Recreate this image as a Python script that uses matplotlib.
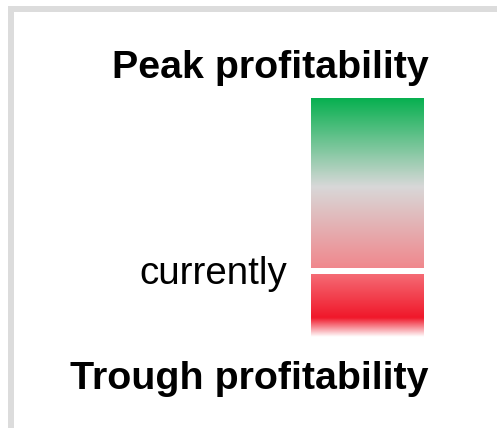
import numpy as np
import matplotlib.pyplot as plt
from matplotlib.colors import LinearSegmentedColormap
from matplotlib.patches import Rectangle

plt.rcParams['font.family'] = ['Liberation Sans', 'DejaVu Sans']

# gradient stops: position on the profitability scale (0 = trough, 1 = peak)
stop_pos = [0.0, 0.08, 0.26, 0.29, 0.63, 1.0]
stop_colors = ['#f0182a', '#f0182a', '#f56a74', '#f0888d', '#d8d8d8', '#08b050']
fade_top = 0.08          # below this the bar fades to white
current_level = 0.276    # where "currently" sits
top_label = 'Peak profitability'
bottom_label = 'Trough profitability'
current_label = 'currently'

W, H = 497, 428
fig = plt.figure(figsize=(W / 100, H / 100), dpi=100)

# background frame
bg = fig.add_axes([0, 0, 1, 1])
bg.set_xlim(0, W)
bg.set_ylim(H, 0)
bg.axis('off')
bg.add_patch(Rectangle((11, 9), 800, 800, facecolor='white',
                       edgecolor='#dcdcdc', lw=6 * 0.72))

# gradient bar
ax = fig.add_axes([311 / W, (H - 337) / H, 113 / W, 239 / H])
cmap = LinearSegmentedColormap.from_list('prof', list(zip(stop_pos, stop_colors)))
y = np.linspace(0, 1, 500)
rgba = cmap(y)
rgba[:, 3] = np.clip(y / fade_top, 0, 1)
img = rgba[::-1, None, :]
ax.imshow(img, extent=[0, 1, 0, 1], aspect='auto', interpolation='bilinear')
ax.axhspan(current_level - 0.013, current_level + 0.013, color='white', lw=0)
ax.set_xlim(0, 1)
ax.set_ylim(0, 1)
ax.axis('off')

# labels
bg.text(429, 68, top_label, ha='right', va='center', fontsize=28.4,
        fontweight='bold')
bg.text(429, 379, bottom_label, ha='right', va='center', fontsize=28.4,
        fontweight='bold')
bg.text(287, 274, current_label, ha='right', va='center', fontsize=27.7)

fig.savefig('out.png', dpi=100)
